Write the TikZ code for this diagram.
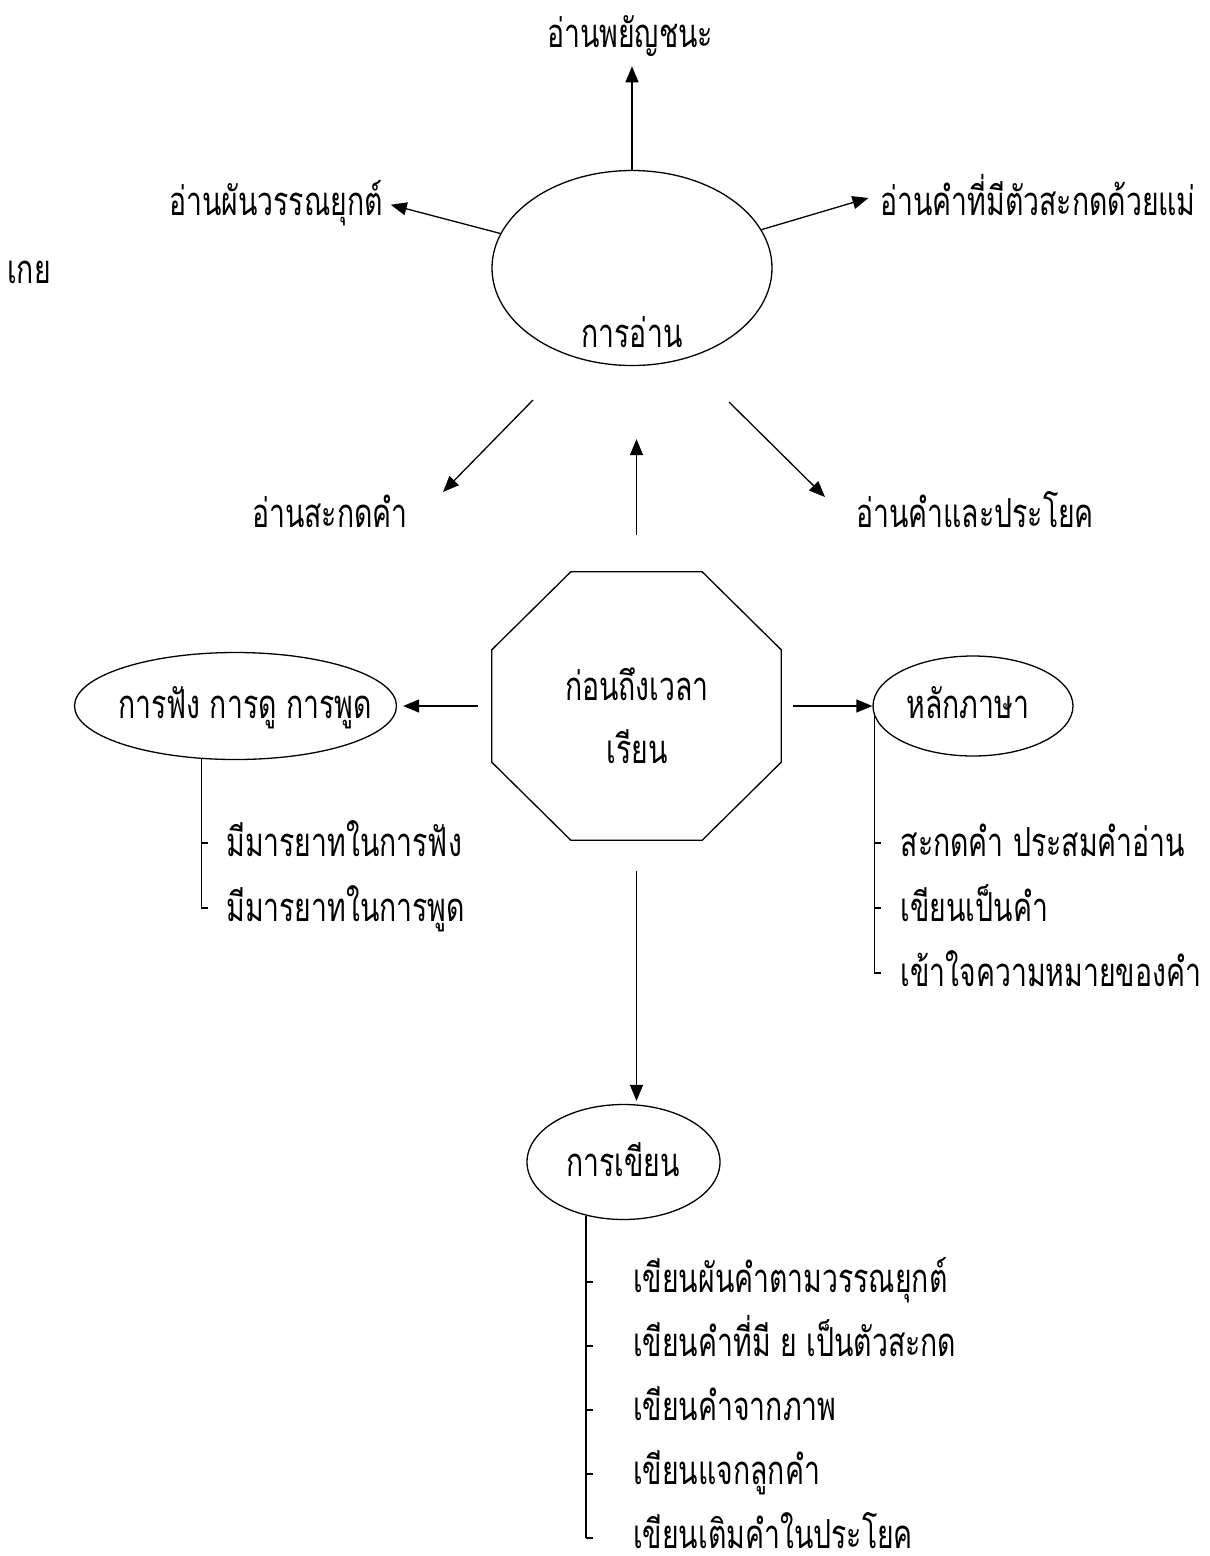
\documentclass[tikz,border=0pt]{standalone}
\usepackage{fontspec}
\newfontfamily\thaifont[Script=Thai,FakeStretch=0.71]{Loma}
\usetikzlibrary{arrows.meta,positioning,shapes.geometric,calc}
\tikzset{
  >={Triangle[length=16pt,width=13pt]},
  line/.style={line width=1.3pt},
  arr/.style={->,line width=1.3pt},
  idea/.style={ellipse,draw,line width=1.3pt,inner sep=0pt},
  word/.style={font=\thaifont\fontsize{40}{63}\selectfont,inner sep=0pt},
  hub/.style={rectangle,inner sep=0pt,minimum width=289,minimum height=268},
}

\begin{document}
\begin{tikzpicture}[x=1pt,y=-1pt]
  \useasboundingbox (0,0) rectangle (1210,1556);
  % reading
  \node[idea,minimum width=280,minimum height=195] (read) at (632,268) {};
  \node[word,anchor=base] (readtxt) at (632,347) {การอ่าน};
  \node[word,anchor=base] (cons) at (630,47) {อ่านพยัญชนะ};
  \node[word,anchor=base east] (tone) at (383,215) {อ่านผันวรรณยุกต์};
  \node[word,anchor=base west] (final) at (880,215) {อ่านคำที่มีตัวสะกดด้วยแม่};
  \node[word,anchor=base west] (kei) at (7,283) {เกย};
  \node[word,anchor=base] (spell) at (330,527) {อ่านสะกดคำ};
  \node[word,anchor=base] (sent) at (975,527) {อ่านคำและประโยค};
  \draw[arr,shorten >=10pt] (read.north) -- (read.north |- cons.south);
  \draw[arr,shorten >=8pt] (read) -- (tone.east);
  \draw[arr,shorten >=12pt] (read) -- (final.west);
  \coordinate (dl0) at (533,400);
  \coordinate (dl1) at (443,492);
  \coordinate (dr0) at (729,402);
  \coordinate (dr1) at (825,497);
  \draw[arr] (dl0) -- (dl1);
  \draw[arr] (dr0) -- (dr1);

  % centre
  \node[hub] (start) at (636.5,706) {};
  \draw[line] ([xshift=79]start.north west) -- ([xshift=-79]start.north east)
    -- ([yshift=-78]start.north east) -- ([yshift=78]start.south east)
    -- ([xshift=-79]start.south east) -- ([xshift=79]start.south west)
    -- ([yshift=78]start.south west) -- ([yshift=-78]start.north west) -- cycle;
  \node[word,align=center] (starttxt) at (637,716) {ก่อนถึงเวลา\\เรียน};
  \draw[arr,shorten <=37pt,shorten >=73pt] (start.north) -- (start.north |- read.south);

  % listening
  \node[idea,minimum width=322,minimum height=107] (listen) at (235.5,706) {};
  \node[word,anchor=base] (listentxt) at (245,718) {การฟัง การดู การพูด};
  \draw[arr,shorten <=14pt,shorten >=6pt] (start.west) -- (listen.east);
  \foreach \t [count=\i] in {มีมารยาทในการฟัง,มีมารยาทในการพูด}{
    \coordinate (lt\i) at (listen.237 |- 0,778+65*\i);
    \draw[line] (lt\i) -- ++(7,0);
    \node[word,anchor=base west] (l\i) at ($(lt\i)+(25,13)$) {\t};
  }
  \draw[line] (listen.237) -- (lt2);

  % grammar
  \node[idea,minimum width=200,minimum height=100] (lang) at (973,706) {};
  \node[word,anchor=base] (langtxt) at (968,718) {หลักภาษา};
  \draw[arr,shorten <=12pt] (start.east) -- (lang.west);
  \foreach \t [count=\i] in {สะกดคำ ประสมคำอ่าน,เขียนเป็นคำ,เข้าใจความหมายของคำ}{
    \coordinate (gt\i) at (lang.186 |- 0,778+65*\i);
    \draw[line] (gt\i) -- ++(7,0);
    \node[word,anchor=base west] (g\i) at ($(gt\i)+(26,13)$) {\t};
  }
  \draw[line] (lang.186) -- (gt3);

  % writing
  \node[idea,minimum width=193,minimum height=115] (write) at (623.5,1162) {};
  \node[word,anchor=base] (writetxt) at (623,1176) {การเขียน};
  \draw[arr,shorten <=31pt,shorten >=3pt] (start.south) -- (start.south |- write.north);
  \foreach \t [count=\i] in {เขียนผันคำตามวรรณยุกต์,เขียนคำที่มี ย เป็นตัวสะกด,
      เขียนคำจากภาพ,เขียนแจกลูกคำ,เขียนเติมคำในประโยค}{
    \coordinate (wt\i) at (write.235 |- 0,1218+64*\i);
    \draw[line] (wt\i) -- ++(7,0);
    \node[word,anchor=base west] (w\i) at ($(wt\i)+(47,10)$) {\t};
  }
  \draw[line] (write.235) -- (wt5);
\end{tikzpicture}
\end{document}
